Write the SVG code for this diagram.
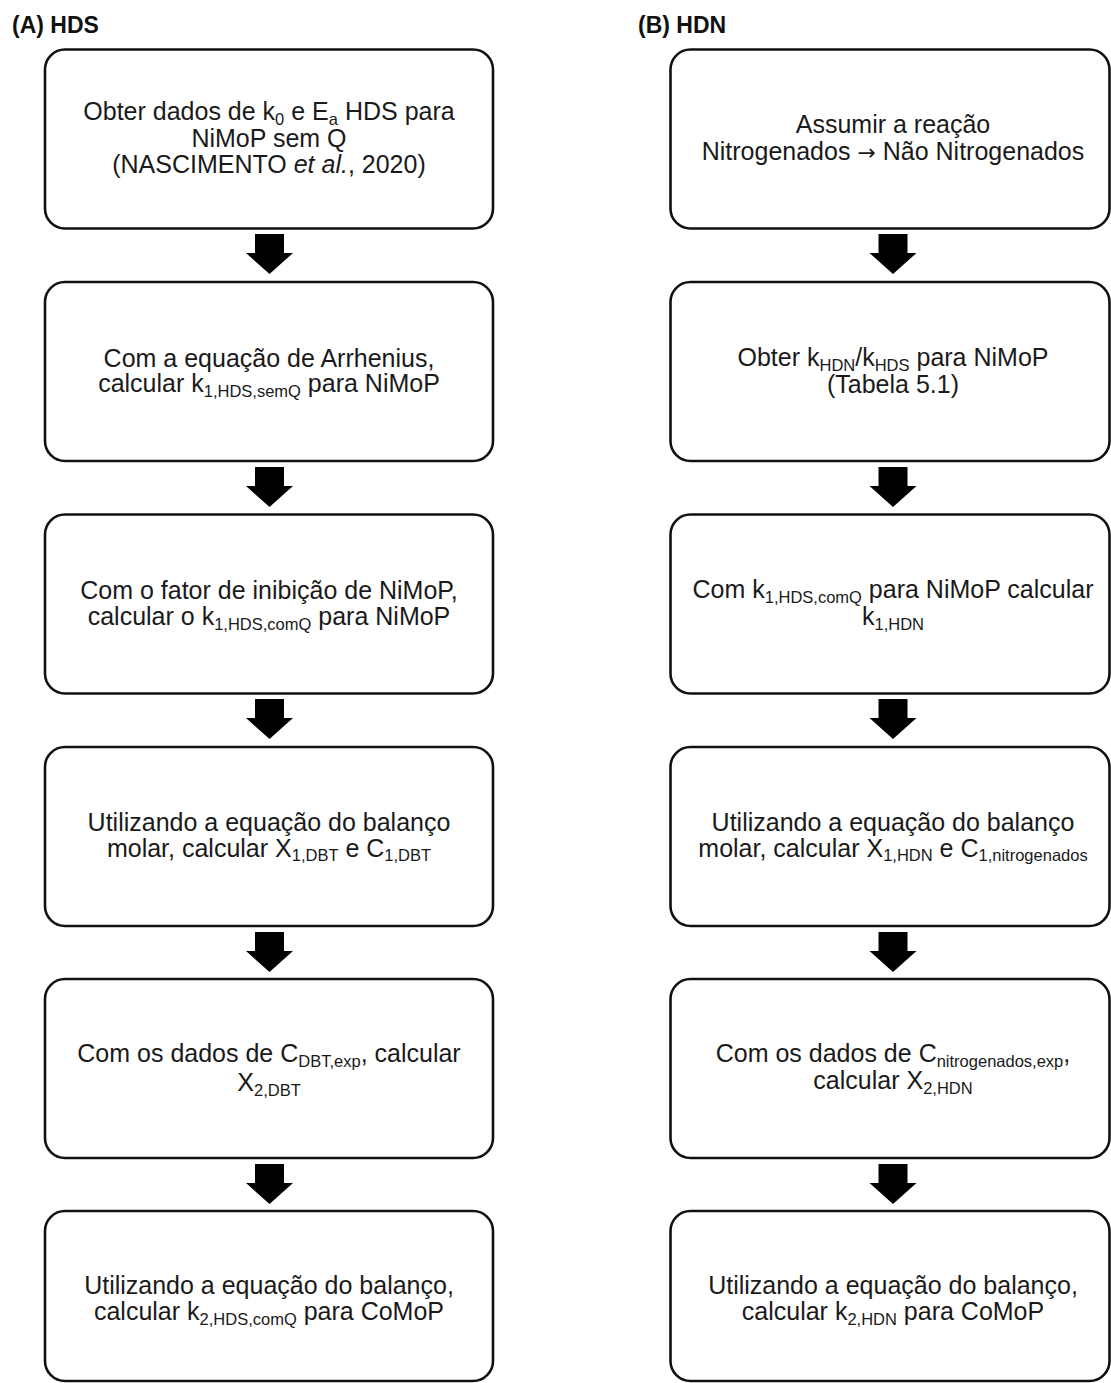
<svg xmlns="http://www.w3.org/2000/svg" width="1111" height="1383" viewBox="0 0 1111 1383">
<style>
.box{fill:#fff;stroke:#111;stroke-width:2.6}
.t{font-family:"Liberation Sans",Arial,sans-serif;font-size:25px;fill:#1a1a1a;text-anchor:middle}
.s{font-size:16.5px}
.h{font-family:"Liberation Sans",Arial,sans-serif;font-size:23px;font-weight:bold;fill:#111}
.arr{fill:#000}
</style>
<rect width="1111" height="1383" fill="#fff"/>
<text class="h" x="12" y="33">(A) HDS</text>
<text class="h" x="638" y="33">(B) HDN</text>

<g id="connectors">
<path class="arr" d="M255,234 H284 V253 H293 L269.5,274 L246,253 H255 Z"/>
<path class="arr" d="M255,467 H284 V486 H293 L269.5,507 L246,486 H255 Z"/>
<path class="arr" d="M255,699 H284 V718 H293 L269.5,739 L246,718 H255 Z"/>
<path class="arr" d="M255,932 H284 V951 H293 L269.5,972 L246,951 H255 Z"/>
<path class="arr" d="M255,1164 H284 V1183 H293 L269.5,1204 L246,1183 H255 Z"/>
<path class="arr" d="M878.5,234 H907.5 V253 H916.5 L893,274 L869.5,253 H878.5 Z"/>
<path class="arr" d="M878.5,467 H907.5 V486 H916.5 L893,507 L869.5,486 H878.5 Z"/>
<path class="arr" d="M878.5,699 H907.5 V718 H916.5 L893,739 L869.5,718 H878.5 Z"/>
<path class="arr" d="M878.5,932 H907.5 V951 H916.5 L893,972 L869.5,951 H878.5 Z"/>
<path class="arr" d="M878.5,1164 H907.5 V1183 H916.5 L893,1204 L869.5,1183 H878.5 Z"/>
</g>

<g id="a1">
<rect class="box" x="45" y="49.5" width="448" height="179" rx="20"/>
<text class="t" x="269" y="120">Obter dados de k<tspan class="s" dy="4.5">0</tspan><tspan dy="-4.5"> e E</tspan><tspan class="s" dy="4.5">a</tspan><tspan dy="-4.5"> HDS para</tspan></text>
<text class="t" x="269" y="147">NiMoP sem Q</text>
<text class="t" x="269" y="173">(NASCIMENTO <tspan font-style="italic">et al.</tspan>, 2020)</text>
</g>
<g id="a2">
<rect class="box" x="45" y="282" width="448" height="179" rx="20"/>
<text class="t" x="269" y="366.5">Com a equação de Arrhenius,</text>
<text class="t" x="269" y="392">calcular k<tspan class="s" dy="4.5">1,HDS,semQ</tspan><tspan dy="-4.5"> para NiMoP</tspan></text>
</g>
<g id="a3">
<rect class="box" x="45" y="514.5" width="448" height="179" rx="20"/>
<text class="t" x="269" y="599">Com o fator de inibição de NiMoP,</text>
<text class="t" x="269" y="625">calcular o k<tspan class="s" dy="4.5">1,HDS,comQ</tspan><tspan dy="-4.5"> para NiMoP</tspan></text>
</g>
<g id="a4">
<rect class="box" x="45" y="747" width="448" height="179" rx="20"/>
<text class="t" x="269" y="830.5">Utilizando a equação do balanço</text>
<text class="t" x="269" y="856.5">molar, calcular X<tspan class="s" dy="4.5">1,DBT</tspan><tspan dy="-4.5"> e C</tspan><tspan class="s" dy="4.5">1,DBT</tspan></text>
</g>
<g id="a5">
<rect class="box" x="45" y="979" width="448" height="179" rx="20"/>
<text class="t" x="269" y="1062">Com os dados de C<tspan class="s" dy="4.5">DBT,exp</tspan><tspan dy="-4.5">, calcular</tspan></text>
<text class="t" x="269" y="1091">X<tspan class="s" dy="4.5">2,DBT</tspan></text>
</g>
<g id="a6">
<rect class="box" x="45" y="1211" width="448" height="170" rx="20"/>
<text class="t" x="269" y="1294">Utilizando a equação do balanço,</text>
<text class="t" x="269" y="1320">calcular k<tspan class="s" dy="4.5">2,HDS,comQ</tspan><tspan dy="-4.5"> para CoMoP</tspan></text>
</g>

<g id="b1">
<rect class="box" x="670.5" y="49.5" width="439" height="179" rx="20"/>
<text class="t" x="893" y="133">Assumir a reação</text>
<text class="t" x="893" y="160">Nitrogenados <tspan font-family="'DejaVu Sans',sans-serif" font-size="22">→</tspan> Não Nitrogenados</text>
</g>
<g id="b2">
<rect class="box" x="670.5" y="282" width="439" height="179" rx="20"/>
<text class="t" x="893" y="366">Obter k<tspan class="s" dy="4.5">HDN</tspan><tspan dy="-4.5">/k</tspan><tspan class="s" dy="4.5">HDS</tspan><tspan dy="-4.5"> para NiMoP</tspan></text>
<text class="t" x="893" y="392.5">(Tabela 5.1)</text>
</g>
<g id="b3">
<rect class="box" x="670.5" y="514.5" width="439" height="179" rx="20"/>
<text class="t" x="893" y="598">Com k<tspan class="s" dy="4.5">1,HDS,comQ</tspan><tspan dy="-4.5"> para NiMoP calcular</tspan></text>
<text class="t" x="893" y="625">k<tspan class="s" dy="4.5">1,HDN</tspan></text>
</g>
<g id="b4">
<rect class="box" x="670.5" y="747" width="439" height="179" rx="20"/>
<text class="t" x="893" y="830.5">Utilizando a equação do balanço</text>
<text class="t" x="893" y="856.5">molar, calcular X<tspan class="s" dy="4.5">1,HDN</tspan><tspan dy="-4.5"> e C</tspan><tspan class="s" dy="4.5">1,nitrogenados</tspan></text>
</g>
<g id="b5">
<rect class="box" x="670.5" y="979" width="439" height="179" rx="20"/>
<text class="t" x="893" y="1062">Com os dados de C<tspan class="s" dy="4.5">nitrogenados,exp</tspan><tspan dy="-4.5">,</tspan></text>
<text class="t" x="893" y="1089">calcular X<tspan class="s" dy="4.5">2,HDN</tspan></text>
</g>
<g id="b6">
<rect class="box" x="670.5" y="1211" width="439" height="170" rx="20"/>
<text class="t" x="893" y="1294">Utilizando a equação do balanço,</text>
<text class="t" x="893" y="1320">calcular k<tspan class="s" dy="4.5">2,HDN</tspan><tspan dy="-4.5"> para CoMoP</tspan></text>
</g>
</svg>
